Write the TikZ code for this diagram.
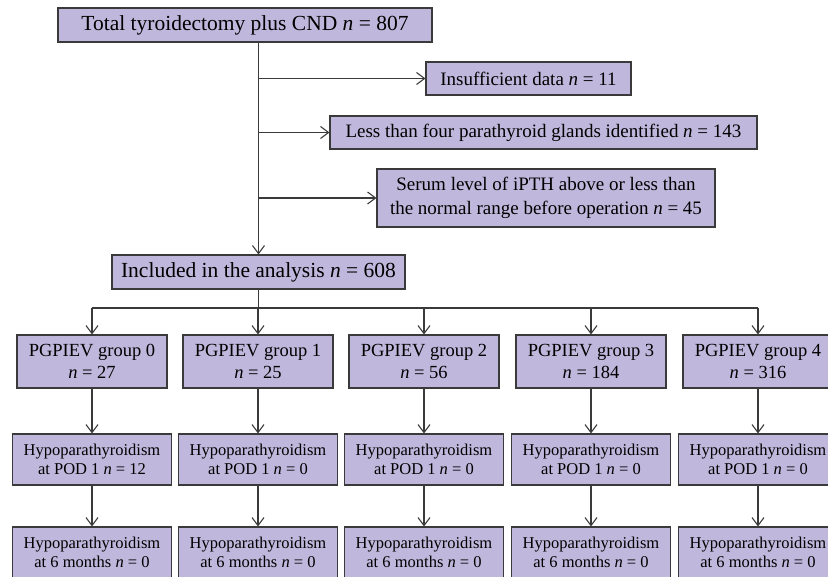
\documentclass[tikz,border=0pt]{standalone}
\usepackage{fontspec}
\setmainfont{Liberation Serif}
\usetikzlibrary{arrows.meta}
\definecolor{boxfill}{HTML}{BFB8DC}
\definecolor{boxline}{HTML}{3A3A3A}

\begin{document}
\begin{tikzpicture}[x=1pt,y=-1pt,
    box/.style={draw=boxline,fill=boxfill,line width=1.1pt,align=center,inner sep=0pt,
        font=\fontsize{19}{24}\selectfont},
    bigbox/.style={box,minimum height=34pt,font=\fontsize{21.5}{24}\selectfont},
    smallbox/.style={box,minimum width=159pt,minimum height=51pt,
        font=\fontsize{16.5}{19.5}\selectfont},
    arr/.style={draw=boxline,line width=1.1pt,-{Straight Barb[length=8pt,width=12pt]}},
    link/.style={draw=boxline,line width=1.1pt}]
    \useasboundingbox (0,0) rectangle (828,577);

    \node[bigbox,minimum width=374pt] (total) at (245,25) {Total tyroidectomy plus CND \textit{n} = 807};
    \node[box,minimum width=205pt,minimum height=33pt] (insuf) at (528.5,78.5) {Insufficient data \textit{n} = 11};
    \node[box,minimum width=427pt,minimum height=33pt] (less) at (543.5,132.5) {Less than four parathyroid glands identified \textit{n} = 143};
    \node[box,minimum width=338pt,minimum height=58pt] (serum) at (546,198) {Serum level of iPTH above or less than\\the normal range before operation \textit{n} = 45};
    \node[bigbox,minimum width=293pt] (incl) at (258.5,272) {Included in the analysis \textit{n} = 608};

    \draw[arr] (total.south -| incl.north) -- (incl.north);
    \draw[arr] (insuf.west -| incl.north) -- (insuf.west);
    \draw[arr] (less.west -| incl.north) -- (less.west);
    \draw[arr] (serum.west -| incl.north) -- (serum.west);

    \coordinate (bus) at (258.5,308);
    \draw[link] (incl.south) -- (bus);

    \foreach \i/\x/\n/\p in {0/92/27/12, 1/258/25/0, 2/424/56/0, 3/591/184/0, 4/758/316/0} {
        \node[box,minimum width=150pt,minimum height=53pt,font=\fontsize{18.5}{22}\selectfont] (grp\i) at (\x,361.5) {PGPIEV group \i\\\textit{n} = \n};
        \node[smallbox] (pod\i) at (\x,459.5) {Hypoparathyroidism\\at POD 1 \textit{n} = \p};
        \node[smallbox] (six\i) at (\x,552.5) {Hypoparathyroidism\\at 6 months \textit{n} = 0};
        \draw[arr] (grp\i.north |- bus) -- (grp\i.north);
        \draw[arr] (grp\i) -- (pod\i);
        \draw[arr] (pod\i) -- (six\i);
    }
    \draw[link] (grp0.north |- bus) -- (grp4.north |- bus);
\end{tikzpicture}
\end{document}
